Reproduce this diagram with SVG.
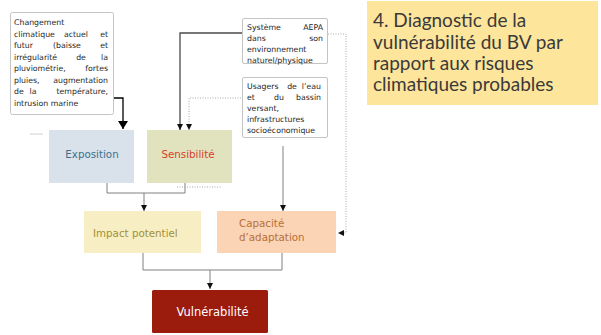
<svg xmlns="http://www.w3.org/2000/svg" width="601" height="335" viewBox="0 0 601 335">
  <style>
    .note { fill: #ffffff; stroke: #c4c4c4; stroke-width: 1; }
    .nt { font-family: "DejaVu Sans", Verdana, sans-serif; font-size: 7.8px; fill: #262626; }
    .lbl { font-family: "DejaVu Sans", Verdana, sans-serif; font-size: 10.3px; }
    .wire { fill: none; stroke: #808080; stroke-width: 1; }
    .dark { fill: none; stroke: #4a4a4a; stroke-width: 1.3; }
    .dots { fill: none; stroke: #a8a8a8; stroke-width: 1; stroke-dasharray: 1 1.5; }
    .title { font-family: Lato, "Open Sans", sans-serif; font-size: 19px; fill: #3a3a3a; }
  </style>
  <defs>
    <marker id="tip" viewBox="0 0 6 6" refX="6" refY="3" markerWidth="6" markerHeight="6" markerUnits="userSpaceOnUse" orient="auto">
      <path d="M0,0 L6,3 L0,6 z" fill="#111"/>
    </marker>
    <marker id="bigtip" viewBox="0 0 8 10" refX="8" refY="5" markerWidth="8" markerHeight="10" markerUnits="userSpaceOnUse" orient="auto">
      <path d="M0,0 L8,5 L0,10 z" fill="#000"/>
    </marker>
  </defs>

  <!-- heading panel -->
  <g id="heading">
    <rect x="367" y="1" width="231" height="104" fill="#fde59b"/>
    <text class="title" x="373" y="27">4. Diagnostic de la</text>
    <text class="title" x="373" y="49">vulnérabilité du BV par</text>
    <text class="title" x="373" y="70">rapport aux risques</text>
    <text class="title" x="373" y="91">climatiques probables</text>
  </g>

  <!-- connectors -->
  <g id="connectors">
    <path d="M108,98 H123 V129" fill="none" stroke="#000" stroke-width="1.3" marker-end="url(#bigtip)"/>
    <path class="dark" d="M242,33 H180 V130" marker-end="url(#tip)"/>
    <path class="dots" d="M241,98 H189 V130" marker-end="url(#tip)"/>
    <path class="dots" d="M328,34 H346 V233 H338" marker-end="url(#tip)"/>
    <path class="wire" d="M283,146 V211" marker-end="url(#tip)"/>
    <path class="wire" d="M107,183 V193 H185 V183"/>
    <path class="wire" d="M144,193 V211" marker-end="url(#tip)"/>
    <path class="wire" d="M143,253 V270 H282 V253"/>
    <path class="wire" d="M210,270 V289" marker-end="url(#tip)"/>
    <path d="M30,134 H43" stroke="#d0d0d0" stroke-width="1"/>
    <path class="dots" d="M177,187 H222" stroke="#cfcfcf"/>
  </g>

  <!-- climate driver note -->
  <g id="changement">
    <rect class="note" x="10.5" y="12.5" width="103" height="102" rx="2"/>
    <text class="nt" x="14" y="25">Changement</text>
    <text class="nt" y="36.5"><tspan x="14">climatique</tspan><tspan x="76" text-anchor="middle">actuel</tspan><tspan x="108" text-anchor="end">et</tspan></text>
    <text class="nt" y="48"><tspan x="14">futur</tspan><tspan x="67" text-anchor="middle">(baisse</tspan><tspan x="108" text-anchor="end">et</tspan></text>
    <text class="nt" y="59.5"><tspan x="14">irrégularité</tspan><tspan x="81" text-anchor="middle">de</tspan><tspan x="108" text-anchor="end">la</tspan></text>
    <text class="nt" y="71"><tspan x="14">pluviométrie,</tspan><tspan x="108" text-anchor="end">fortes</tspan></text>
    <text class="nt" y="82.5"><tspan x="14">pluies,</tspan><tspan x="108" text-anchor="end">augmentation</tspan></text>
    <text class="nt" y="94"><tspan x="14">de</tspan><tspan x="33" text-anchor="middle">la</tspan><tspan x="108" text-anchor="end">température,</tspan></text>
    <text class="nt" x="14" y="105.5">intrusion marine</text>
  </g>

  <!-- water supply system note -->
  <g id="systeme">
    <rect class="note" x="242.5" y="18.5" width="85" height="45" rx="1.5"/>
    <text class="nt" y="29.5"><tspan x="247">Système</tspan><tspan x="323" text-anchor="end">AEPA</tspan></text>
    <text class="nt" y="40.5"><tspan x="247">dans</tspan><tspan x="323" text-anchor="end">son</tspan></text>
    <text class="nt" x="247" y="51.5">environnement</text>
    <text class="nt" x="247" y="62.5">naturel/physique</text>
  </g>

  <!-- users note -->
  <g id="usagers">
    <rect class="note" x="242.5" y="77.5" width="85" height="60" rx="1.5"/>
    <text class="nt" y="89"><tspan x="247">Usagers</tspan><tspan x="292" text-anchor="middle">de</tspan><tspan x="321" text-anchor="end">l’eau</tspan></text>
    <text class="nt" y="100"><tspan x="247">et</tspan><tspan x="279" text-anchor="middle">du</tspan><tspan x="321" text-anchor="end">bassin</tspan></text>
    <text class="nt" x="247" y="111">versant,</text>
    <text class="nt" x="247" y="121.5">infrastructures</text>
    <text class="nt" x="247" y="132.5">socioéconomique</text>
  </g>

  <g id="exposition">
    <rect x="49" y="130" width="85" height="53" fill="#d9e2eb"/>
    <text class="lbl" x="92" y="157.5" text-anchor="middle" fill="#3b7189">Exposition</text>
  </g>

  <g id="sensibilite">
    <rect x="147" y="130" width="85" height="53" fill="#e1e3bf"/>
    <text class="lbl" x="188" y="157.5" text-anchor="middle" fill="#d8402a">Sensibilité</text>
  </g>

  <g id="impact">
    <rect x="84" y="211" width="117" height="42" fill="#f8eec4"/>
    <text class="lbl" x="93" y="236.5" fill="#9e9035" font-size="10.6">Impact potentiel</text>
  </g>

  <g id="capacite">
    <rect x="217" y="211" width="119" height="42" fill="#fbd3b5"/>
    <text class="lbl" x="239" y="226.5" fill="#b67039">Capacité</text>
    <text class="lbl" x="239" y="240.5" fill="#b67039">d’adaptation</text>
  </g>

  <g id="vulnerabilite">
    <rect x="152" y="290" width="116" height="43" rx="1.5" fill="#9b1b0d"/>
    <text x="212.5" y="316" text-anchor="middle" font-family="'DejaVu Sans', Verdana, sans-serif" font-size="11.5" fill="#ffffff">Vulnérabilité</text>
  </g>
</svg>
